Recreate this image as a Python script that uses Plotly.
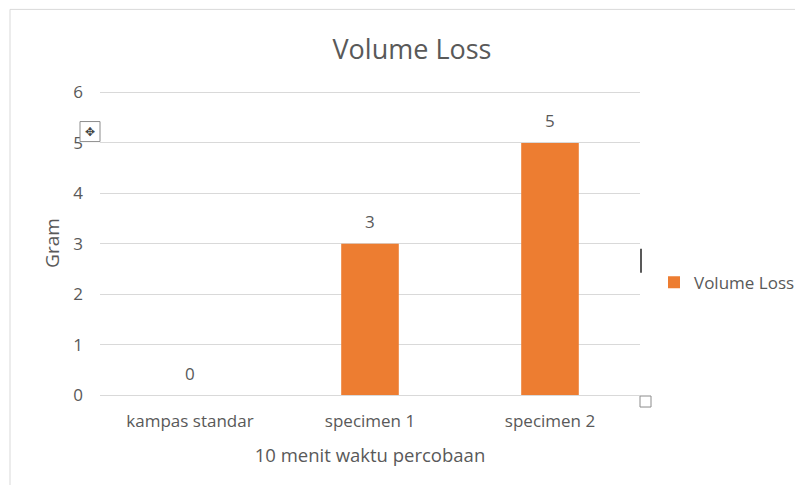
import plotly.graph_objects as go

categories = ["kampas standar", "specimen 1", "specimen 2"]
volume_loss = [0, 3, 5]
series_name = "Volume Loss"
title_text = "Volume Loss"
y_title = "Gram"
x_title = "10 menit waktu percobaan"
y_ticks = [0, 1, 2, 3, 4, 5, 6]

FONT = "'Open Sans', 'Noto Sans', sans-serif"
GRAY = "#595959"
ORANGE = "#ED7D31"

# page body has an 8px margin; work in reference-pixel coords and shift
OFF = 8
W, H = 803 - OFF, 485 - OFF
YMAX = 6.03
PL, PR, PB = 100, 640, 395
PT = PB - (PB - 93) * YMAX / 6.0
L, T = PL - OFF, PT - OFF
R = W - (PR - OFF)
B = H - (PB - OFF)
pw, ph = PR - PL, PB - PT


def px(x):
    return (x - PL) / pw


def py(y):
    return (PB - y) / ph


fig = go.Figure()
fig.add_trace(go.Bar(
    x=categories, y=volume_loss, name=series_name,
    marker=dict(color=ORANGE, line=dict(width=0)),
    showlegend=True, hoverinfo="x+y",
))

annotations = [
    dict(x=c, y=v, xref="x", yref="y", text=str(v), showarrow=False,
         yshift=22, font=dict(size=17, color=GRAY, family=FONT),
         xanchor="center", yanchor="middle")
    for c, v in zip(categories, volume_loss)
]
annotations.append(
    dict(text="✥", xref="paper", yref="paper", x=px(90), y=py(132),
         showarrow=False, font=dict(size=12, color="#444444"),
         xanchor="center", yanchor="middle"))

fig.update_layout(
    width=W, height=H,
    margin=dict(l=L, r=R, t=T, b=B, autoexpand=False),
    paper_bgcolor="white", plot_bgcolor="white",
    font=dict(family=FONT, color=GRAY, size=17),
    title=dict(text=title_text, x=(412 - OFF) / W, xanchor="center",
               y=1 - (50 - OFF) / H, yanchor="middle",
               font=dict(size=27, color=GRAY, family=FONT)),
    bargap=0.68,
    showlegend=True,
    legend=dict(x=px(654), y=py(283), xanchor="left", yanchor="middle",
                font=dict(size=17, color=GRAY, family=FONT), itemwidth=30,
                bgcolor="rgba(0,0,0,0)"),
    xaxis=dict(title=dict(text=x_title, font=dict(size=18.5, color=GRAY), standoff=18),
               showgrid=False, showline=False, ticks="", ticklabelstandoff=14,
               tickfont=dict(size=17, color=GRAY), automargin=False),
    yaxis=dict(title=dict(text=y_title, font=dict(size=19, color=GRAY), standoff=8),
               range=[0, YMAX], tickvals=y_ticks, showgrid=True, gridcolor="#D9D9D9",
               gridwidth=1, zeroline=True, zerolinecolor="#D9D9D9", zerolinewidth=1,
               showline=False, ticks="", ticklabelstandoff=16,
               tickfont=dict(size=17, color=GRAY), automargin=False),
    shapes=[
        dict(type="rect", xref="paper", yref="paper",
             x0=px(10), x1=px(812), y0=py(492), y1=py(10),
             line=dict(color="#D9D9D9", width=1), fillcolor="rgba(0,0,0,0)", layer="below"),
        dict(type="rect", xref="paper", yref="paper",
             x0=px(640), x1=px(651), y0=py(407), y1=py(396),
             line=dict(color="#8C8C8C", width=1), fillcolor="white"),
        dict(type="line", xref="paper", yref="paper",
             x0=px(641), x1=px(641), y0=py(273), y1=py(249),
             line=dict(color="#222222", width=1.5)),
        dict(type="rect", xref="paper", yref="paper",
             x0=px(80), x1=px(100), y0=py(142), y1=py(122),
             line=dict(color="#8C8C8C", width=1), fillcolor="white"),
    ],
    annotations=annotations,
)

fig.write_html("out.html")
